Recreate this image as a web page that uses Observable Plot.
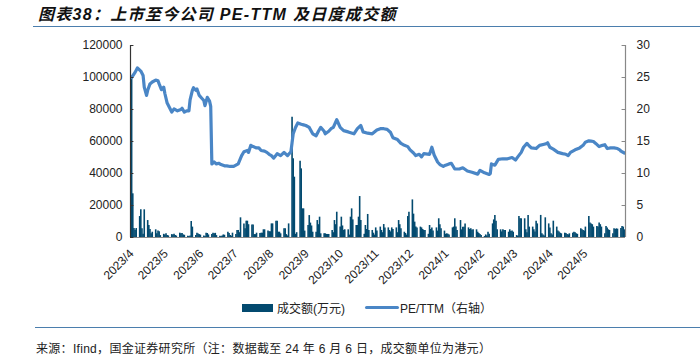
<!DOCTYPE html>
<html><head><meta charset="utf-8">
<script src="https://cdn.jsdelivr.net/npm/d3@7"></script>
<script src="https://cdn.jsdelivr.net/npm/@observablehq/plot@0.6"></script>
<style>
body{margin:0;width:700px;height:364px;background:#fff;position:relative;overflow:hidden;font-family:"Liberation Sans","Noto Sans CJK SC",sans-serif}
#title{position:absolute;left:38px;top:1px;font-family:"Liberation Sans","Noto Sans CJK SC";font-style:italic;font-weight:bold;font-size:16px;letter-spacing:1.3px;color:#111;white-space:nowrap}
#tline{position:absolute;left:33px;right:0;top:26px;border-top:1.5px solid #4b7ead}
#chart{position:absolute;left:0;top:30px}
#legend{position:absolute;left:242px;top:299px;display:flex;align-items:center;font-size:12px;color:#222;white-space:nowrap}
.sw{display:inline-block}
#bline{position:absolute;left:35px;right:0;top:327px;border-top:1.5px solid #4b7ead}
#source{position:absolute;left:36px;top:339px;font-size:12px;color:#222;white-space:nowrap;letter-spacing:.3px}
</style></head>
<body>
<div id="title">图表38：上市至今公司 PE-TTM 及日度成交额</div>
<div id="tline"></div>
<div id="chart"></div>
<div id="legend"><span class="sw" style="width:31px;height:8px;background:#034a6f;margin-right:4px"></span><span>成交额(万元)</span><span style="width:20px"></span><span class="sw" style="width:34px;height:3px;background:#4a86c6;border-radius:2px;margin-right:1px"></span><span>PE/TTM（右轴）</span></div>
<div id="bline"></div>
<div id="source">来源：Ifind，国金证券研究所（注：数据截至 24 年 6 月 6 日，成交额单位为港元）</div>
<script>
// ---- data ----
const firstDay = "2023-04-03";   // first trading day shown
const lastDay = "2024-06-06";    // last trading day shown
// daily turnover (万元), one per weekday from firstDay, read week by week
const amount = [
 100000,27300,5600,4500,5600,  13100,17300,5400,2000,17300,  10600,7500,5000,2300,3300,  4800,2300,4000,3600,1200,
 2000,1600,2400,1200,1000,  1800,1500,2000,1200,900,  2700,2400,2500,1600,1400,  800,600,1000,10000,6500,
 1200,2700,2200,1800,1500,  1000,600,2700,2500,1600,  1800,2700,2400,2600,1200,  800,700,900,1600,1400,
 3300,2500,1200,800,2700,  1800,4400,4400,3000,12300,  8500,5400,10200,10200,8000,  7800,7800,1800,1800,2700,
 2500,2700,2700,4800,4800,  4000,3600,3600,8500,8500,  10200,10200,3300,3300,2300,  5400,5400,1800,1000,8500,
 75200,49200,37700,2000,3000,  47700,42900,17900,17900,4000,  7500,13700,9000,7200,3300,  3300,10600,8000,12700,2300,
 2300,2300,1900,1900,1900,  4400,3000,10600,8000,15800,  6500,12700,7200,4500,4800,  4800,1500,12700,17900,11000,
 7500,7500,12700,25600,10600,  2000,7500,5000,14400,4400,  4400,2700,1500,6000,4000,  6500,4400,3000,8100,6000,
 6000,4400,3500,6000,5000,  6000,3000,10600,8000,5400,  3300,2500,1500,13100,15800,  23500,14600,9600,6500,6000,
 6500,6000,5000,4400,4400,  2000,7500,5000,6000,4000,  6000,4000,11700,8000,5400,  4000,2000,2300,2000,1500,
 6000,6500,11700,6500,4400,  10600,4800,6400,6400,8500,  6000,5000,5400,4500,4800,  4800,3300,2500,1800,1200,
 600,1600,1000,3300,2000,  8500,11000,13800,10200,4800,  4800,3500,4800,4400,4400,  3300,4800,3800,4000,3300,
 1200,800,13100,11700,11700,  11700,4800,3000,13800,6500,  6500,4800,3500,10200,8500,  13800,2300,1500,1000,12300,
 8500,6000,2300,1500,10200,  6500,4000,3500,2700,2300,  2700,2500,1800,1600,2300,  2700,3300,3000,2300,2000,
 5400,4800,4400,4000,6500,  13100,9000,8500,8000,6500,  6900,6500,9000,8000,6500,  2300,6900,6000,4800,4400,
 2300,5400,5000,5400,5200,  5600,6900,6500,4800
];
// PE-TTM readings (right axis)
const peDates = [
 "2023-04-03","2023-04-06","2023-04-08","2023-04-11","2023-04-13","2023-04-14","2023-04-16","2023-04-17","2023-04-19","2023-04-21",
 "2023-04-24","2023-04-26","2023-04-27","2023-04-29","2023-05-01","2023-05-02","2023-05-04","2023-05-06","2023-05-08","2023-05-10",
 "2023-05-13","2023-05-16","2023-05-17","2023-05-19","2023-05-21","2023-05-23","2023-05-24","2023-05-26","2023-05-27","2023-05-29",
 "2023-05-30","2023-06-01","2023-06-03","2023-06-05","2023-06-06","2023-06-08","2023-06-10","2023-06-11","2023-06-12","2023-06-14",
 "2023-06-16","2023-06-18","2023-06-20","2023-06-23","2023-06-25","2023-06-28","2023-07-01","2023-07-03","2023-07-05","2023-07-08",
 "2023-07-10","2023-07-13","2023-07-14","2023-07-16","2023-07-18","2023-07-21","2023-07-23","2023-07-25","2023-07-28","2023-07-30",
 "2023-08-01","2023-08-03","2023-08-05","2023-08-08","2023-08-11","2023-08-14","2023-08-17","2023-08-20","2023-08-21","2023-08-22",
 "2023-08-24","2023-08-26","2023-08-29","2023-08-31","2023-09-02","2023-09-05","2023-09-08","2023-09-11","2023-09-13","2023-09-15",
 "2023-09-18","2023-09-19","2023-09-22","2023-09-24","2023-09-26","2023-09-29","2023-10-02","2023-10-05","2023-10-09","2023-10-14",
 "2023-10-17","2023-10-20","2023-10-22","2023-10-26","2023-10-30","2023-11-03","2023-11-06","2023-11-09","2023-11-12","2023-11-15",
 "2023-11-17","2023-11-21","2023-11-24","2023-11-26","2023-11-30","2023-12-02","2023-12-05","2023-12-07","2023-12-10","2023-12-12",
 "2023-12-14","2023-12-19","2023-12-21","2023-12-23","2023-12-26","2023-12-28","2023-12-31","2024-01-02","2024-01-05","2024-01-07",
 "2024-01-10","2024-01-14","2024-01-17","2024-01-21","2024-01-25","2024-01-30","2024-02-01","2024-02-05","2024-02-09","2024-02-10",
 "2024-02-11","2024-02-14","2024-02-17","2024-02-21","2024-02-25","2024-02-29","2024-03-03","2024-03-05","2024-03-08","2024-03-10",
 "2024-03-13","2024-03-15","2024-03-17","2024-03-21","2024-03-24","2024-03-29","2024-03-31","2024-04-02","2024-04-05","2024-04-09",
 "2024-04-13","2024-04-16","2024-04-18","2024-04-20","2024-04-24","2024-04-28","2024-05-01","2024-05-03","2024-05-06","2024-05-08",
 "2024-05-10","2024-05-12","2024-05-15","2024-05-18","2024-05-20","2024-05-22","2024-05-25","2024-05-28","2024-05-31","2024-06-02",
 "2024-06-03","2024-06-06"
];
const peValues = [
 25.0,25.8,26.5,26.0,25.3,23.5,22.2,23.0,24.0,24.3,
 24.6,24.5,24.0,23.1,23.5,22.5,21.0,20.3,19.6,20.1,
 19.8,20.0,20.2,19.6,19.8,19.8,21.5,23.0,23.4,23.0,
 23.2,22.2,21.8,21.4,20.6,21.9,21.3,20.5,11.5,11.8,
 11.5,11.6,11.4,11.2,11.2,11.1,11.1,11.3,11.5,12.8,
 13.4,13.6,13.3,14.4,14.2,14.0,14.0,13.6,13.5,13.3,
 13.0,12.8,12.4,13.1,12.8,13.3,12.8,13.4,14.8,16.2,
 17.2,17.9,17.7,17.6,17.5,17.2,16.2,15.9,16.6,17.2,
 16.6,16.2,16.6,17.0,17.2,18.4,17.2,16.7,16.5,16.2,
 17.0,17.5,16.5,16.3,16.2,16.8,17.0,17.0,16.9,16.4,
 15.6,15.3,14.7,14.5,14.2,13.7,13.2,12.8,13.0,12.6,
 13.1,13.0,14.1,12.9,11.8,11.4,11.1,11.3,11.5,11.6,
 10.7,10.7,10.9,10.4,10.2,9.9,10.5,10.1,9.85,10.0,
 11.5,11.3,12.2,12.3,12.3,12.5,12.1,12.6,13.3,14.1,
 14.7,14.3,14.0,13.9,14.4,14.6,14.8,14.1,13.8,13.3,
 13.1,13.0,12.8,13.3,13.7,14.0,14.4,14.9,15.1,15.05,
 15.0,14.7,14.2,14.4,14.5,13.9,14.0,14.0,13.9,13.7,
 13.5,13.2
];
const xTickLabels = ["2023/4","2023/5","2023/6","2023/7","2023/8","2023/9","2023/10","2023/11","2023/12","2024/1","2024/2","2024/3","2024/4","2024/5"];
const leftTicks = [0,20000,40000,60000,80000,100000,120000];
const rightTicks = [0,5,10,15,20,25,30];

// ---- build ----
const day = 864e5;
const d0 = new Date(firstDay + "T00:00:00Z"), d1 = new Date(lastDay + "T00:00:00Z");
const tradeDays = [];
for (let t = +d0; t <= +d1; t += day) { const d = new Date(t); const w = d.getUTCDay(); if (w !== 0 && w !== 6) tradeDays.push(d); }
const bars = amount.map((v, i) => ({date: tradeDays[i], v})).filter(d => d.date);
const pe = peDates.map((s, i) => ({date: new Date(s + "T00:00:00Z"), v: peValues[i]}));
const ratio = leftTicks[leftTicks.length-1] / rightTicks[rightTicks.length-1];
const xStart = new Date(+d0 - day), xEnd = new Date(+d1 + day);
const xTicks = xTickLabels.map(s => { const [y, m] = s.split("/").map(Number); return new Date(Date.UTC(y, m-1, d0.getUTCDate())); });
const fmtX = d => xTickLabels[xTicks.findIndex(t => +t === +d)];

const chart = Plot.plot({
  width: 700, height: 262,
  marginTop: 15, marginBottom: 55, marginLeft: 130, marginRight: 75,
  style: {fontFamily: "'Liberation Sans', Arial, sans-serif", fontSize: "12px", color: "#222"},
  x: {type: "utc", domain: [xStart, xEnd]},
  y: {domain: [0, 120000]},
  marks: [
    Plot.ruleX(bars, {x: "date", y: "v", stroke: "#034a6f", strokeWidth: 1.6}),
    Plot.line(pe, {x: "date", y: d => d.v * ratio, stroke: "#4a86c6", strokeWidth: 3.2, strokeLinejoin: "round", curve: "linear"}),
    Plot.ruleY([0], {stroke: "#8a8a8a", strokeWidth: 1.2}),
    Plot.ruleX([xStart], {y1: 0, y2: 120000, stroke: "#333", strokeWidth: 1.2}),
    Plot.ruleX([xEnd], {y1: 0, y2: 120000, stroke: "#888", strokeWidth: 1.2}),
    Plot.ruleY(leftTicks, {x1: xStart, x2: new Date(+xStart + 3*day), stroke: "#333"}),
    Plot.ruleY(rightTicks.map(d => d * ratio), {x1: new Date(+xEnd - 3*day), x2: xEnd, stroke: "#888"}),
    Plot.axisY(leftTicks, {anchor: "left", tickSize: 0, tickPadding: 8, tickFormat: d => String(d), label: null, fontSize: 12}),
    Plot.axisY(rightTicks, {anchor: "right", y: d => d * ratio, tickSize: 0, tickPadding: 11, tickFormat: d => String(d), label: null, fontSize: 12}),
    Plot.axisX(xTicks, {tickRotate: -45, tickSize: 0, tickPadding: 14, tickFormat: fmtX, label: null, fontSize: 12})
  ]
});
document.getElementById("chart").appendChild(chart);
</script>
</body></html>
